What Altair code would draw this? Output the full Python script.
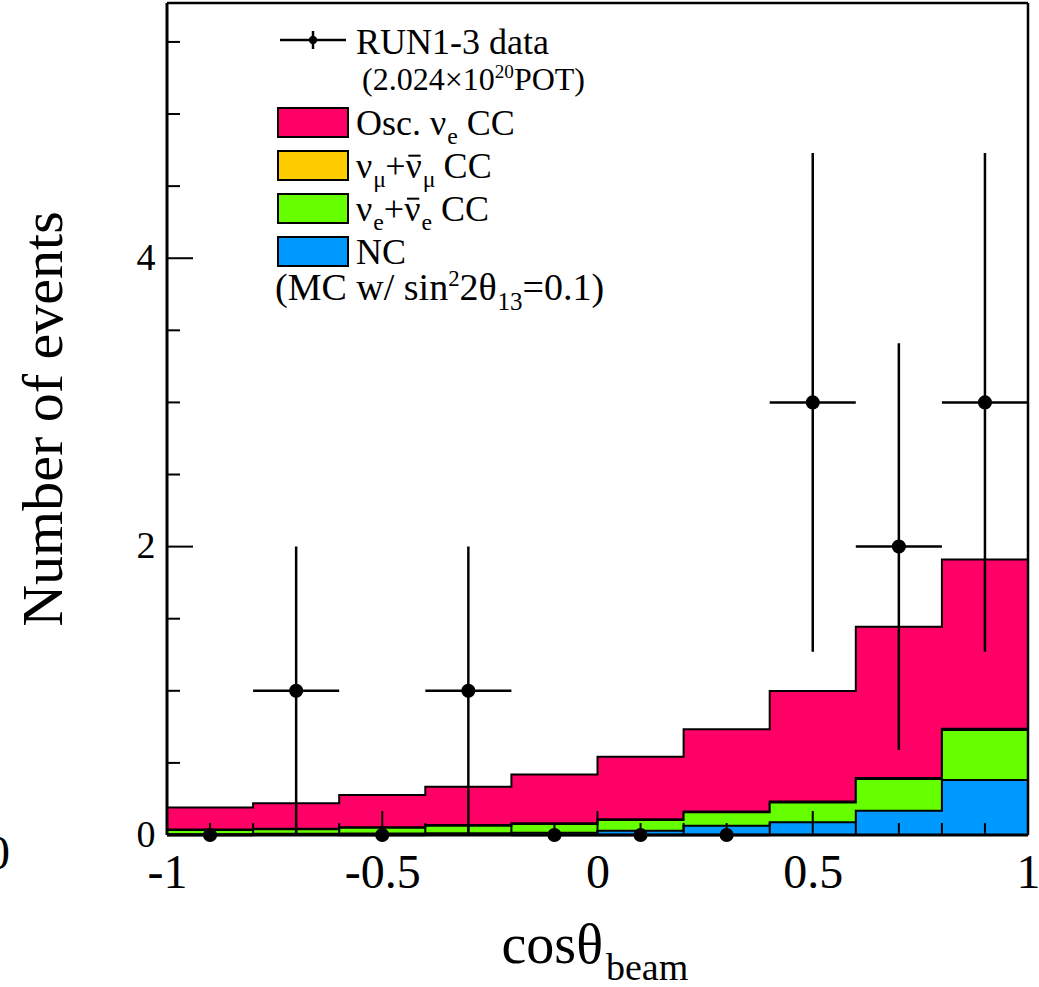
import altair as alt
import pandas as pd

FONT = "Liberation Serif"

# ---------------- data ----------------
edges = [-1.0, -0.8, -0.6, -0.4, -0.2, 0.0, 0.2, 0.4, 0.6, 0.8, 1.0]
centers = [-0.9, -0.7, -0.5, -0.3, -0.1, 0.1, 0.3, 0.5, 0.7, 0.9]
nc = [0.006, 0.008, 0.010, 0.012, 0.015, 0.030, 0.065, 0.088, 0.168, 0.381]
nue_bg = [0.029, 0.032, 0.040, 0.053, 0.061, 0.074, 0.092, 0.138, 0.220, 0.347]
numu = [0.003, 0.003, 0.004, 0.004, 0.005, 0.005, 0.006, 0.006, 0.007, 0.008]
osc_nue = [0.152, 0.177, 0.223, 0.266, 0.339, 0.434, 0.570, 0.766, 1.049, 1.174]
data_counts = [0, 1, 0, 1, 0, 0, 0, 3, 2, 3]
data_err = [0, 1.0, 0, 1.0, 0, 0, 0, 1.73, 1.41, 1.73]

x_tick_labels = [-1, -0.5, 0, 0.5, 1]
x_major_ticks = [-0.5, 0, 0.5]
x_minor_ticks = [-0.9, -0.8, -0.7, -0.6, -0.4, -0.3, -0.2, -0.1,
                 0.1, 0.2, 0.3, 0.4, 0.6, 0.7, 0.8, 0.9]
y_tick_labels = [0, 2, 4]
y_major_ticks = [2, 4]
y_minor_ticks = [0.5, 1, 1.5, 2.5, 3, 3.5, 4.5, 5, 5.5]

COLORS = {"osc": "#ff0066", "numu": "#ffcc00", "nue": "#66ff00", "nc": "#0099ff"}

# ---------------- layout ----------------
W, H = 861, 832
PL, PT = 167, 3

# cumulative stacks (bottom to top: NC, nue, numu, osc)
c1 = nc
c2 = [a + b for a, b in zip(c1, nue_bg)]
c3 = [a + b for a, b in zip(c2, numu)]
c4 = [a + b for a, b in zip(c3, osc_nue)]


def step_table(vals):
    return pd.DataFrame({"x": edges, "y": list(vals) + [vals[-1]]})


xs = alt.Scale(domain=[-1, 1], nice=False, zero=False)
ys = alt.Scale(domain=[0, 5.77], nice=False, zero=False)
xax = alt.Axis(values=x_tick_labels, ticks=False, domain=False, grid=False,
               labelFont=FONT, labelFontSize=48, labelPadding=14,
               labelExpr="toString(datum.value)", labelFlush=False,
               labelOverlap=False, labelBound=False, title=None, labelColor="black")
yax = alt.Axis(values=y_tick_labels, ticks=False, domain=False, grid=False,
               labelFont=FONT, labelFontSize=38, labelPadding=12,
               labelOverlap=False, labelBound=False, title=None, labelColor="black")


def X(f):
    return alt.X(f, type="quantitative", scale=xs, axis=xax)


def Y(f):
    return alt.Y(f, type="quantitative", scale=ys, axis=yax)


layers = []
for vals, key in [(c4, "osc"), (c3, "numu"), (c2, "nue"), (c1, "nc")]:
    t = step_table(vals)
    layers.append(alt.Chart(t).mark_area(interpolate="step-after", color=COLORS[key], opacity=1)
                  .encode(x=X("x"), y=Y("y")))
    layers.append(alt.Chart(t).mark_line(interpolate="step-after", color="black", strokeWidth=2)
                  .encode(x=X("x"), y=Y("y")))

# inward ticks
ONE = pd.DataFrame({"a": [0]})
layers.append(alt.Chart(pd.DataFrame({"v": y_major_ticks})).mark_rule(color="black", strokeWidth=2)
              .encode(y=Y("v"), x=alt.value(0), x2=alt.value(26)))
layers.append(alt.Chart(pd.DataFrame({"v": y_minor_ticks})).mark_rule(color="black", strokeWidth=2)
              .encode(y=Y("v"), x=alt.value(0), x2=alt.value(13)))
layers.append(alt.Chart(pd.DataFrame({"v": x_major_ticks})).mark_rule(color="black", strokeWidth=2)
              .encode(x=X("v"), y=alt.value(H), y2=alt.value(H - 24)))
layers.append(alt.Chart(pd.DataFrame({"v": x_minor_ticks})).mark_rule(color="black", strokeWidth=2)
              .encode(x=X("v"), y=alt.value(H), y2=alt.value(H - 12)))

# data points with error bars
pts = pd.DataFrame({
    "x": centers, "y": data_counts,
    "xl": edges[:-1], "xh": edges[1:],
    "yl": [c - e for c, e in zip(data_counts, data_err)],
    "yh": [c + e for c, e in zip(data_counts, data_err)],
})
layers.append(alt.Chart(pts).mark_rule(color="black", strokeWidth=2.5)
              .encode(x=X("xl"), x2="xh", y=Y("y")))
layers.append(alt.Chart(pts).mark_rule(color="black", strokeWidth=2.5)
              .encode(x=X("x"), y=Y("yl"), y2="yh"))
layers.append(alt.Chart(pts).mark_circle(color="black", size=200, opacity=1)
              .encode(x=X("x"), y=Y("y")))

# frame
for (x1, x2, y1, y2, sw) in [(0, W, H, H, 3), (0, 0, 0, H, 3), (0, W, 0, 0, 2.5), (W, W, 0, H, 2.5)]:
    layers.append(alt.Chart(ONE).mark_rule(color="black", strokeWidth=sw)
                  .encode(x=alt.value(x1), x2=alt.value(x2), y=alt.value(y1), y2=alt.value(y2)))

# ---------------- text helpers ----------------
WID = {'(': .333, ')': .333, '2': .5, '.': .25, '0': .5, '4': .5, '×': .564, '1': .5,
       'P': .556, 'O': .722, 'T': .611, 'R': .667, 'U': .722, 'N': .722, '-': .333,
       '3': .5, ' ': .25, 'd': .5, 'a': .444, 't': .278, 's': .389, 'c': .444,
       'ν': .48, 'e': .444, 'μ': .5, '+': .564, 'C': .667, 'M': .889, 'w': .722,
       '/': .278, 'i': .278, 'n': .5, 'θ': .5, '=': .564, 'o': .5, 'b': .5, 'm': .778}


def tw(s, fs):
    return sum(WID.get(ch, 0.5) for ch in s) * fs


def txt(s, x, y, fs, align="left", angle=0):
    return (alt.Chart(ONE).mark_text(text=s, font=FONT, fontSize=fs, align=align,
                                     baseline="alphabetic", color="black", angle=angle)
            .encode(x=alt.value(x - PL), y=alt.value(y - PT)))


def rich(segs, x, y, fs):
    out = []
    for kind, s in segs:
        if kind == "sub":
            f, dy = fs * 0.66, fs * 0.26
        elif kind == "sup":
            f, dy = fs * 0.6, -fs * 0.36
        else:
            f, dy = fs, 0
        # leading spaces are collapsed by SVG: advance the pen instead
        while s.startswith(" "):
            x += tw(" ", f)
            s = s[1:]
        out.append(txt(s, x, y + dy, f))
        w = tw(s, f)
        if kind == "bar":
            out.append(alt.Chart(ONE).mark_rule(color="black", strokeWidth=2)
                       .encode(x=alt.value(x + 0.08 * fs - PL), x2=alt.value(x + w - 0.06 * fs - PL),
                               y=alt.value(y - 0.62 * fs - PT)))
        x += w
    return out


LF = 36
# legend: data entry
layers.append(alt.Chart(ONE).mark_rule(color="black", strokeWidth=2.5)
              .encode(x=alt.value(280 - PL), x2=alt.value(346 - PL), y=alt.value(40 - PT)))
layers.append(alt.Chart(ONE).mark_rule(color="black", strokeWidth=2.5)
              .encode(x=alt.value(313 - PL), y=alt.value(31 - PT), y2=alt.value(49 - PT)))
layers.append(alt.Chart(ONE).mark_circle(color="black", size=70, opacity=1)
              .encode(x=alt.value(313 - PL), y=alt.value(40 - PT)))
layers += rich([("n", "RUN1-3 data")], 356, 54, LF)
layers += rich([("n", "(2.024×10"), ("sup", "20"), ("n", "POT)")], 362, 90, 32)

rows = [
    ("osc", 108, [("n", "Osc. ν"), ("sub", "e"), ("n", " CC")]),
    ("numu", 151, [("n", "ν"), ("sub", "μ"), ("n", "+"), ("bar", "ν"), ("sub", "μ"), ("n", " CC")]),
    ("nue", 194, [("n", "ν"), ("sub", "e"), ("n", "+"), ("bar", "ν"), ("sub", "e"), ("n", " CC")]),
    ("nc", 237, [("n", "NC")]),
]
for key, ytop, segs in rows:
    layers.append(alt.Chart(ONE).mark_rect(color=COLORS[key], stroke="black", strokeWidth=2, opacity=1)
                  .encode(x=alt.value(278 - PL), x2=alt.value(348 - PL),
                          y=alt.value(ytop - PT), y2=alt.value(ytop + 29 - PT)))
    layers += rich(segs, 356, ytop + 27, LF)

layers += rich([("n", "(MC w/ sin"), ("sup", "2"), ("n", "2θ"), ("sub", "13"), ("n", "=0.1)")], 275, 300, 38)

# axis titles
layers.append(txt("Number of events", 62, PT + H / 2, 58, align="center", angle=270))
layers.append(txt("cosθ", 603, 963, 56, align="right"))
layers.append(txt("beam", 606, 980, 38))
# clipped fragment at the left edge of the figure
layers.append(txt("0", -14, 869, 48))

chart = (alt.layer(*layers)
         .properties(width=W, height=H,
                     autosize=alt.AutoSizeParams(type="none"),
                     padding={"left": PL, "top": PT, "right": 1039 - PL - W, "bottom": 987 - PT - H})
         .configure_view(stroke=None)
         .configure(background="white"))

chart.save("out.html", embed_options={"renderer": "svg", "actions": False})
